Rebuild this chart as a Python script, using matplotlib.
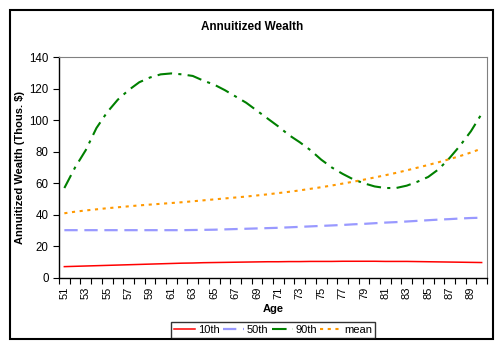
import matplotlib
matplotlib.use("Agg")
import matplotlib.pyplot as plt
from matplotlib.patches import Rectangle

plt.rcParams['font.family'] = ['Liberation Sans', 'DejaVu Sans']

ages = list(range(51, 91))

p10 = [7.2, 7.4, 7.6, 7.8, 8.0, 8.2, 8.4, 8.6, 8.8, 9.0,
       9.2, 9.4, 9.5, 9.7, 9.8, 9.9, 10.0, 10.1, 10.2, 10.3,
       10.3, 10.4, 10.4, 10.5, 10.5, 10.5, 10.6, 10.6, 10.6, 10.6,
       10.5, 10.5, 10.5, 10.4, 10.3, 10.2, 10.1, 10.0, 9.9, 9.8]

p50 = [30.3, 30.3, 30.3, 30.3, 30.3, 30.3, 30.3, 30.3, 30.3, 30.3,
       30.3, 30.3, 30.4, 30.5, 30.6, 30.8, 31.0, 31.2, 31.4, 31.6,
       31.8, 32.1, 32.4, 32.7, 33.0, 33.3, 33.6, 34.0, 34.3, 34.7,
       35.1, 35.4, 35.8, 36.2, 36.6, 37.0, 37.3, 37.7, 38.0, 38.2]

p90 = [57, 70, 81, 95, 105, 113, 119, 124, 127, 129,
       129.6, 129, 128, 125, 122.5, 119, 115, 111, 106, 101,
       96, 90.5, 86, 81, 75, 70, 66, 62.5, 60, 58,
       57, 57, 58.5, 61, 64, 69, 76, 84, 93, 104]

mean = [41, 42, 42.8, 43.5, 44.2, 44.8, 45.4, 46, 46.5, 47,
        47.5, 48, 48.6, 49.2, 49.8, 50.4, 51, 51.6, 52.3, 53,
        53.8, 54.6, 55.5, 56.5, 57.5, 58.6, 59.8, 61, 62.3, 63.7,
        65.1, 66.6, 68.2, 69.9, 71.6, 73.4, 75.3, 77.3, 79.5, 82]

fig = plt.figure(figsize=(5.04, 3.5), dpi=100)
fig.patches.append(Rectangle((10 / 504, 1 - 339 / 350), 483 / 504, 329 / 350,
                             transform=fig.transFigure, fill=False,
                             edgecolor='black', linewidth=1.5))

ax = fig.add_axes([59 / 504, 1 - 278 / 350, 428 / 504, 221 / 350])
x = list(range(len(ages)))

ax.plot(x, p10, color='#FF0000', linewidth=1.1, label='10th')
ax.plot(x, p50, color='#9999FF', linewidth=1.6, dashes=(6, 3), label='50th')
ax.plot(x, p90, color='#008000', linewidth=1.5, dashes=(7, 3, 1.5, 3), label='90th')
ax.plot(x, mean, color='#FF9900', linewidth=1.5, dashes=(1.5, 2.2), label='mean')

ax.set_xlim(-0.5, len(ages) - 0.5)
ax.set_ylim(0, 140)
ax.set_yticks(range(0, 141, 20))
ax.set_xticks(x[::2])
ax.set_xticklabels([str(a) for a in ages[::2]], rotation=90)
ax.set_xticks([i - 0.5 for i in range(len(ages) + 1)], minor=True)
ax.tick_params(axis='x', which='major', length=0, labelsize=8, pad=6)
ax.tick_params(axis='x', which='minor', length=4, width=0.8, direction='out')
ax.tick_params(axis='y', length=4, width=0.8, labelsize=8.3)

ax.spines['top'].set_color('#808080')
ax.spines['right'].set_color('#808080')
ax.spines['left'].set_linewidth(1.0)
ax.spines['bottom'].set_linewidth(1.0)

ax.set_xlabel('Age', fontsize=8, fontweight='bold', labelpad=4)
ax.set_ylabel('Annuitized Wealth (Thous. $)', fontsize=8, fontweight='bold', labelpad=3)
fig.text(0.5, 1 - 27 / 350, 'Annuitized Wealth', ha='center', va='center',
         fontsize=8.5, fontweight='bold')

leg = fig.legend(loc='center', bbox_to_anchor=(273 / 504, 1 - 330 / 350), ncol=4,
                 fontsize=8, frameon=True, fancybox=False, handlelength=1.9,
                 handletextpad=0.25, columnspacing=0.3, borderpad=0.25,
                 borderaxespad=0)
leg.get_frame().set_edgecolor('black')
leg.get_frame().set_linewidth(1.0)

fig.savefig('out.png', dpi=100)
